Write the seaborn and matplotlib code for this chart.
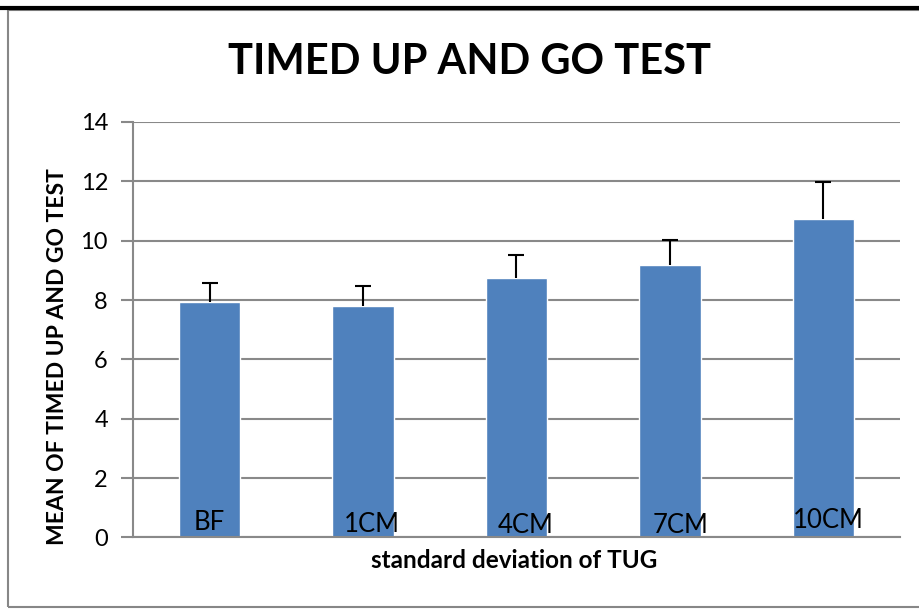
import matplotlib
matplotlib.use("Agg")
import matplotlib.pyplot as plt
import seaborn as sns
import pandas as pd
from matplotlib.patches import Rectangle
from matplotlib.lines import Line2D

# values
categories = ["BF", "1CM", "4CM", "7CM", "10CM"]
means = [7.94, 7.80, 8.75, 9.17, 10.73]
sds = [0.62, 0.68, 0.77, 0.87, 1.24]
yticks = [0, 2, 4, 6, 8, 10, 12, 14]

bar_color = "#4F81BD"
grid_color = "#898989"

sns.set_theme(style="white")
plt.rcParams["font.family"] = ["Lato", "DejaVu Sans"]
plt.rcParams["text.color"] = "black"

df = pd.DataFrame({"category": categories, "mean": means, "sd": sds})

fig = plt.figure(figsize=(9.19, 6.13), dpi=100)
ax = fig.add_axes([0.1447, 0.1232, 0.8346, 0.6778])

sns.barplot(data=df, x="category", y="mean", color=bar_color, width=0.4,
            saturation=1, errorbar=None, ax=ax, zorder=2)

# upper error bars only (drop the lower cap)
eb = ax.errorbar(range(len(categories)), df["mean"], yerr=[[0] * len(sds), df["sd"]],
                 fmt="none", ecolor="black", elinewidth=1.5, capsize=5.5, capthick=1.5, zorder=3)
eb.lines[1][0].set_visible(False)

ax.set_xlim(-0.5, len(categories) - 0.5)
ax.set_ylim(0, 14)
ax.set_yticks(yticks)
ax.yaxis.grid(True, color=grid_color, linewidth=1.5, zorder=0)
ax.set_axisbelow(True)
for s in ["top", "right"]:
    ax.spines[s].set_visible(False)
for s in ["left", "bottom"]:
    ax.spines[s].set_color(grid_color)
    ax.spines[s].set_linewidth(1.5)
ax.tick_params(axis="y", which="both", left=True, length=9, width=1.5, color=grid_color,
               labelsize=17, pad=9, labelcolor="black")
ax.set_xticks([])
ax.set_xlabel("")
ax.set_ylabel("")

# category labels sit inside the bars
nudge = [0.0, 0.06, 0.06, 0.07, 0.03]
lift = [0.08, 0.03, -0.02, -0.02, 0.15]
for i, lab in enumerate(categories):
    ax.text(i + nudge[i], lift[i], lab, ha="center", va="bottom", fontsize=18.5,
            color="black", zorder=4)

fig.text(0.511, 0.899, "TIMED UP AND GO TEST", ha="center", va="center",
         fontsize=30, fontweight="bold")
fig.text(0.56, 0.085, "standard deviation of TUG", ha="center", va="center",
         fontsize=17.5, fontweight="bold")
fig.text(0.063, 0.418, "MEAN OF TIMED UP AND GO TEST", ha="center", va="center",
         rotation=90, fontsize=16.5, fontweight="bold")

# chart frame and the page rule above it
fig.add_artist(Rectangle((7.5 / 919, 1 - 607 / 613), 1.2, (607 - 10) / 613,
                         transform=fig.transFigure, fill=False, edgecolor="#878787", linewidth=1.5))
fig.add_artist(Line2D([0, 1], [1 - 7.5 / 613, 1 - 7.5 / 613], transform=fig.transFigure,
                      color="black", linewidth=3))

fig.savefig("out.png", dpi=100)
